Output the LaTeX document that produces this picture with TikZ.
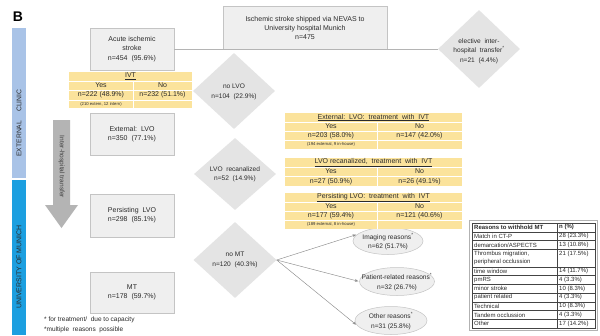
\documentclass[tikz,border=0pt]{standalone}
\usepackage{fontspec}
\setmainfont{Liberation Sans}
\usetikzlibrary{shapes.geometric,arrows.meta,calc}
\pgfdeclarelayer{bg}
\pgfsetlayers{bg,main}
\definecolor{boxfill}{HTML}{EFEFEF}
\definecolor{boxline}{HTML}{C4C4C4}
\definecolor{diafill}{HTML}{E4E4E4}
\definecolor{conn}{HTML}{B4B4B4}
\definecolor{yel}{HTML}{FBE39C}
\definecolor{extblue}{HTML}{A9C3E7}
\definecolor{unicyan}{HTML}{1C9FE0}
\definecolor{arrgray}{HTML}{B4B4B4}
\definecolor{txt}{HTML}{2B2B2B}
\definecolor{tabline}{HTML}{444444}
\begin{document}
\begin{tikzpicture}[x=1pt,y=-1pt,
  box/.style={draw=boxline, line width=0.6pt, fill=boxfill, minimum width=84pt, minimum height=42pt, inner sep=0pt, align=center, font=\fontsize{7}{9.2}\selectfont, text=txt},
  dia/.style={diamond, fill=diafill, inner sep=0pt},
  dtext/.style={align=center, font=\fontsize{6.6}{9.4}\selectfont, text=txt, inner sep=0pt},
  ell/.style={ellipse, draw=boxline, line width=0.5pt, fill=boxfill, inner sep=0pt},
  cn/.style={draw=conn, line width=0.7pt},
  arw/.style={draw=black!45, line width=0.45pt, -{Stealth[length=3.5pt,width=2.8pt]}, shorten >=1pt},
  yfill/.style={fill=yel, inner sep=0pt},
  ysep/.style={draw=white, line width=0.9pt},
  yt/.style={font=\fontsize{7}{8}\selectfont, text=txt, inner sep=0pt},
  ys/.style={font=\fontsize{4.2}{5}\selectfont, text=txt, inner sep=0pt},
  rt/.style={font=\fontsize{6}{7}\selectfont, text=txt, inner sep=0pt, anchor=west},
  tl/.style={draw=tabline, line width=0.4pt}
]
\useasboundingbox (0,0) rectangle (600,335);
\fill[white] (0,0) rectangle (600,335);

% panel letter
\node[font=\fontsize{14}{14}\selectfont\bfseries, inner sep=0pt] (lblB) at (18,17) {B};

% side bands
\node[fill=extblue, minimum width=14pt, minimum height=150pt, inner sep=0pt] (band1) at (19,103) {};
\node[rotate=90, font=\fontsize{6.8}{7}\selectfont, text=txt, inner sep=0pt] (band1t) at (19,123) {EXTERNAL\hspace{9pt}CLINIC};
\node[fill=unicyan, minimum width=14pt, minimum height=155pt, inner sep=0pt] (band2) at (19,257.5) {};
\node[rotate=90, font=\fontsize{7}{7}\selectfont, text=txt, inner sep=0pt] (band2t) at (19,267) {UNIVERSITY OF MUNICH};

% transfer arrow
\fill[arrgray] (53,120) -- (70,120) -- (70,205) -- (78,205) -- (61.5,228) -- (45,205) -- (53,205) -- cycle;
\node[rotate=-90, font=\fontsize{6.6}{7}\selectfont, text=black!75, inner sep=0pt] (arrt) at (61.5,167) {Inter-hospital transfer};

% main boxes
\node[box, minimum width=164pt, minimum height=42.5pt] (top) at (305,28) {Ischemic stroke shipped via NEVAS to\\University hospital Munich\\n=475};
\node[box] (acute) at (132,49) {Acute ischemic\\stroke\\n=454\ \ (95.6\%)};
\node[box] (ext) at (132,134) {External:\ \ LVO\\n=350\ \ (77.1\%)};
\node[box, minimum height=43pt] (pers) at (132,215.5) {Persisting\ \ LVO\\n=298\ \ (85.1\%)};
\node[box, minimum height=41pt] (mt) at (132,292.5) {MT\\n=178\ \ (59.7\%)};

% diamonds
\node[dia, minimum width=82pt, minimum height=78pt] (elective) at (479,49) {};
\node[dtext] (electivet) at (479,51) {elective\ \ inter-\\hospital\ \ transfer\textsuperscript{*}\\n=21\ \ (4.4\%)};
\node[dia, minimum width=82pt, minimum height=76pt] (nolvo) at (234,91) {};
\node[dtext] (nolvot) at (234,92) {no LVO\\n=104\ \ (22.9\%)};
\node[dia, minimum width=82pt, minimum height=72pt] (recan) at (235,174) {};
\node[dtext] (recant) at (235,174) {LVO\ \ recanalized\\n=52\ \ (14.9\%)};
\node[dia, minimum width=83pt, minimum height=76pt] (nomt) at (235,260) {};
\node[dtext] (nomtt) at (235,260) {no MT\\n=120\ \ (40.3\%)};

% ellipses
\node[ell, minimum width=70pt, minimum height=27pt] (img) at (388,241) {};
\node[dtext] (imgt) at (388,241.5) {Imaging reasons\textsuperscript{*}\\n=62 (51.7\%)};
\node[ell, minimum width=75pt, minimum height=28pt] (pat) at (397,281.5) {};
\node[dtext] (patt) at (397,282) {Patient-related reasons\textsuperscript{*}\\n=32 (26.7\%)};
\node[ell, minimum width=72pt, minimum height=28pt] (oth) at (391,320.5) {};
\node[dtext] (otht) at (391,321) {Other reasons\textsuperscript{*}\\n=31 (25.8\%)};

% IVT table
\node[yfill, minimum width=123pt, minimum height=36pt] (ivt) at (130.5,90) {};
\draw[ysep] (69,81) -- (192,81) (69,90) -- (192,90) (69,100) -- (192,100) (133,81) -- (133,108);
\node[yt] (ivth) at (130.5,76.5) {\underline{IVT}};
\node[yt] (ivty) at (101,85.5) {Yes};
\node[yt] (ivtn) at (162.5,85.5) {No};
\node[yt] (ivtyn) at (101,95) {n=222 (48.9\%)};
\node[yt] (ivtnn) at (162.5,95) {n=232 (51.1\%)};
\node[ys] (ivts) at (101,104) {(210 extern, 12 intern)};

% External LVO IVT table
\node[yfill, minimum width=177pt, minimum height=36pt] (t1) at (373.5,131) {};
\draw[ysep] (285,122) -- (462,122) (285,131) -- (462,131) (285,140) -- (462,140) (377,122) -- (377,149);
\node[yt] (t1h) at (373.5,117.5) {\underline{External:\ \ LVO:\ \ treatment\ \ with\ \ IVT}};
\node[yt] (t1y) at (331,126.5) {Yes};
\node[yt] (t1n) at (419.5,126.5) {No};
\node[yt] (t1yn) at (331,135.5) {n=203 (58.0\%)};
\node[yt] (t1nn) at (419.5,135.5) {n=147 (42.0\%)};
\node[ys] (t1s) at (331,144.5) {(194 external, 9 in-house)};

% LVO recanalized IVT table
\node[yfill, minimum width=177pt, minimum height=28pt] (t2) at (373.5,172) {};
\draw[ysep] (285,167) -- (462,167) (285,176.5) -- (462,176.5) (377,167) -- (377,186);
\node[yt] (t2h) at (373.5,162.5) {\underline{LVO recanalized,\ \ treatment\ \ with\ \ IVT}};
\node[yt] (t2y) at (331,171.5) {Yes};
\node[yt] (t2n) at (419.5,171.5) {No};
\node[yt] (t2yn) at (331,181.3) {n=27 (50.9\%)};
\node[yt] (t2nn) at (419.5,181.3) {n=26 (49.1\%)};

% Persisting LVO IVT table
\node[yfill, minimum width=177pt, minimum height=36pt] (t3) at (373.5,211) {};
\draw[ysep] (285,202) -- (462,202) (285,211) -- (462,211) (285,220) -- (462,220) (377,202) -- (377,229);
\node[yt] (t3h) at (373.5,197.5) {\underline{Persisting LVO:\ \ treatment\ \ with\ \ IVT}};
\node[yt] (t3y) at (331,206.5) {Yes};
\node[yt] (t3n) at (419.5,206.5) {No};
\node[yt] (t3yn) at (331,215.5) {n=177 (59.4\%)};
\node[yt] (t3nn) at (419.5,215.5) {n=121 (40.6\%)};
\node[ys] (t3s) at (331,224.5) {(189 external, 8 in-house)};

% reasons table
\draw[draw=black!30, line width=0.5pt] (469,220.5) rectangle (597.5,330);
\draw[tl] (472,223) rectangle (595,328);
\draw[tl] (557,223) -- (557,328);
\foreach \yy in {231.75,240.5,249.25,266.75,275.5,284.25,293,301.75,310.5,319.25}
  \draw[tl] (472,\yy) -- (595,\yy);
\node[rt, font=\fontsize{6}{7}\selectfont\bfseries] (rh1) at (474,227.4) {Reasons to withhold MT};
\node[rt, font=\fontsize{6}{7}\selectfont\bfseries] (rh2) at (559,227.4) {n (\%)};
\node[rt] (r1a) at (474,236.1) {Match in CT-P};
\node[rt] (r1b) at (559,236.1) {28 (23.3\%)};
\node[rt] (r2a) at (474,244.9) {demarcation/ASPECTS};
\node[rt] (r2b) at (559,244.9) {13 (10.8\%)};
\node[rt] (r3a) at (474,253.6) {Thrombus migration,};
\node[rt] (r3c) at (474,262.4) {peripheral occlussion};
\node[rt] (r3b) at (559,253.6) {21 (17.5\%)};
\node[rt] (r4a) at (474,271.1) {time window};
\node[rt] (r4b) at (559,271.1) {14 (11.7\%)};
\node[rt] (r5a) at (474,279.9) {pmRS};
\node[rt] (r5b) at (559,279.9) {4 (3.3\%)};
\node[rt] (r6a) at (474,288.6) {minor stroke};
\node[rt] (r6b) at (559,288.6) {10 (8.3\%)};
\node[rt] (r7a) at (474,297.4) {patient related};
\node[rt] (r7b) at (559,297.4) {4 (3.3\%)};
\node[rt] (r8a) at (474,306.1) {Technical};
\node[rt] (r8b) at (559,306.1) {10 (8.3\%)};
\node[rt] (r9a) at (474,314.9) {Tandem occlussion};
\node[rt] (r9b) at (559,314.9) {4 (3.3\%)};
\node[rt] (r10a) at (474,323.6) {Other};
\node[rt] (r10b) at (559,323.6) {17 (14.2\%)};

% footnotes
\node[rt, font=\fontsize{6.5}{7}\selectfont] (fn1) at (44,319.5) {* for treatment/\ \ due to capacity};
\node[rt, font=\fontsize{6.5}{7}\selectfont] (fn2) at (44,329.5) {*multiple\ \ reasons\ \ possible};

% connectors
\begin{pgfonlayer}{bg}
\draw[cn] (acute.south) -- (ext.north);
\draw[cn] (ext.south) -- (pers.north);
\draw[cn] (pers.south) -- (mt.north);
\draw[cn] (ext.south |- recan.west) -- (recan.west);
\draw[cn] (pers.south |- nomt.west) -- (nomt.west);
\end{pgfonlayer}
\draw[cn] (acute.east) -- (elective.west);
\draw[arw] (nomt.east) -- (img.168);
\draw[arw] (nomt.east) -- (pat.west);
\draw[arw] (nomt.east) -- (oth.188);
\end{tikzpicture}
\end{document}
